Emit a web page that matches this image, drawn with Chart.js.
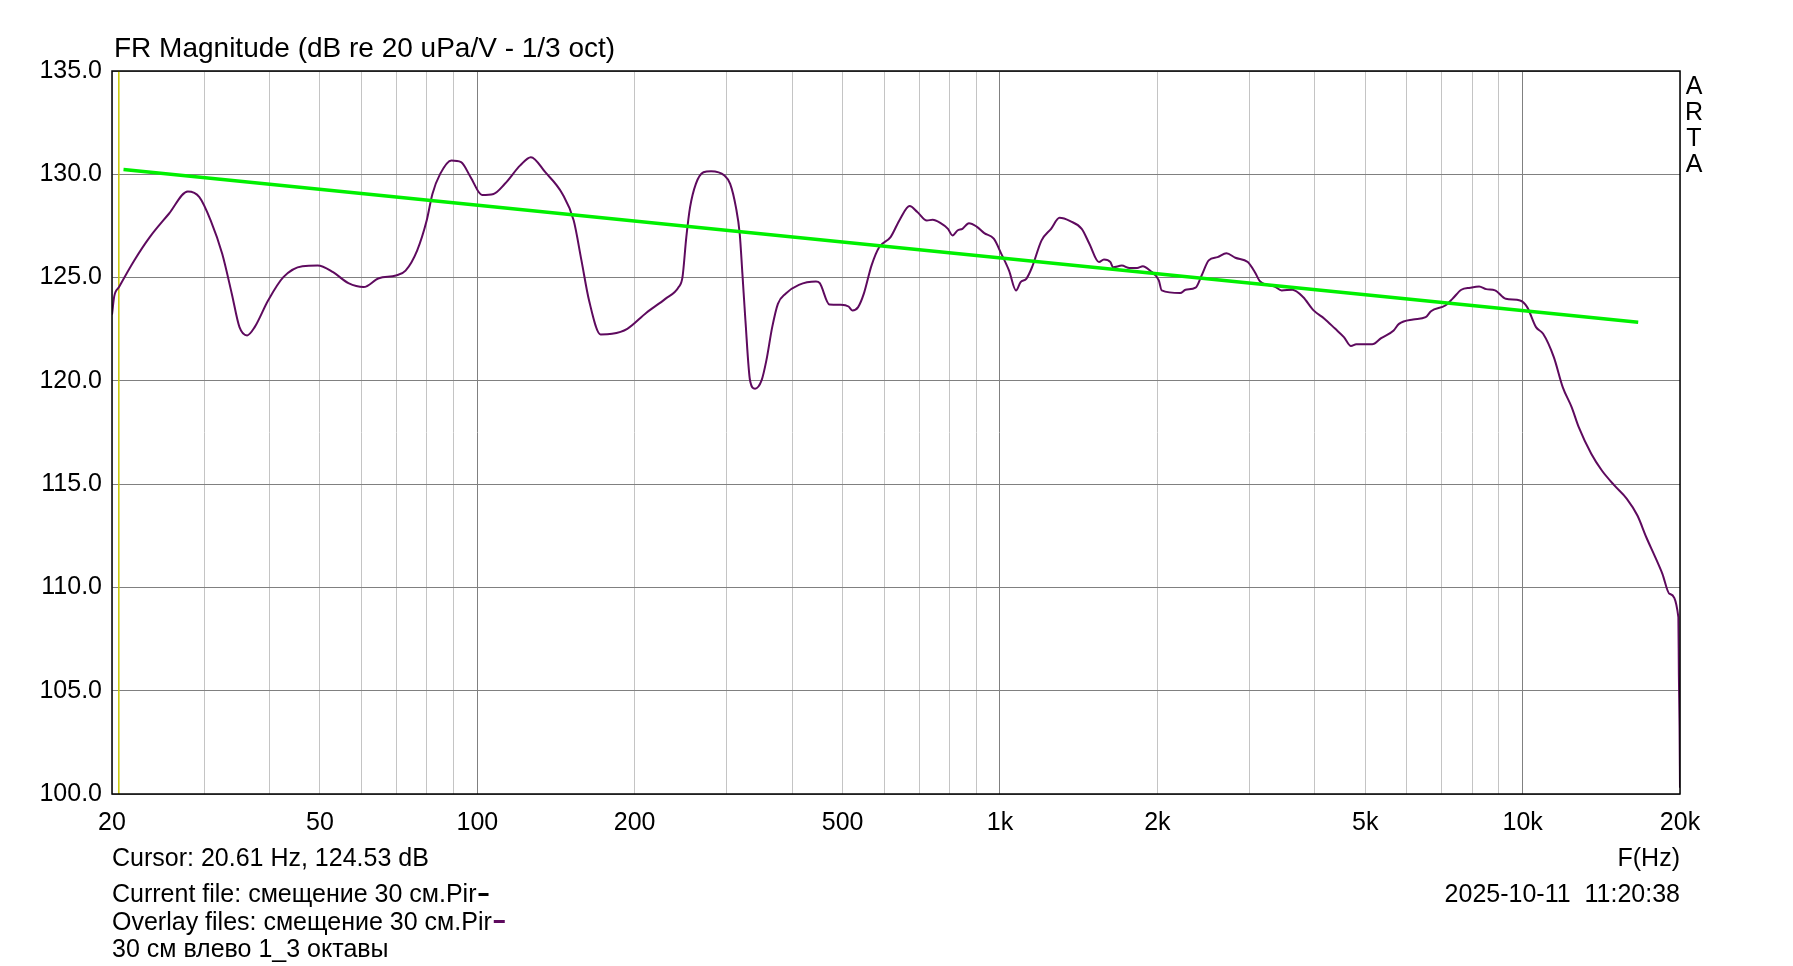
<!DOCTYPE html>
<html><head><meta charset="utf-8">
<script src="https://cdn.jsdelivr.net/npm/chart.js@4.4.1/dist/chart.umd.min.js"></script>
<style>html,body{margin:0;padding:0;background:#fff;overflow:hidden}canvas{display:block}</style>
</head><body>
<canvas id="c" width="1793" height="966"></canvas>
<script>
// ---- data ----
const freqHz = [20.0, 20.2, 20.63, 22.06, 23.62, 25.7, 27.93, 29.39, 30.9, 32.5, 33.9, 35.07, 36.27, 37.5, 39.78,
  42.55, 46.28, 49.5, 52.97, 56.67, 60.6, 64.8, 69.9, 72.9, 76.7, 80.0, 82.05, 84.9, 89.2, 93.1, 97.1,
  102.1, 107.4, 112.9, 120.8, 126.6, 134.9, 145.5, 152.9, 158.2, 163.6, 172.1, 181, 193.6, 210.6, 228.9,
  242.8, 246.9, 251.1, 255.3, 261.9, 270.8, 280.0, 297.0, 304.6, 312.4, 317.7, 321.5, 325.8, 332.5, 339.9,
  349.8, 357.3, 366.6, 375.9, 388.8, 412.3, 444.6, 452.1, 471.6, 496.2, 513.1, 521.8, 535.3, 548.9, 567.7,
  587.2, 617.5, 644.1, 671.7, 694.8, 724.6, 743.3, 768.7, 795.2, 811.1, 829.2, 847.6, 872.1, 902.0, 933.0,
  973.0, 1005.9, 1040.7, 1073.1, 1095.0, 1122.9, 1151.5, 1201.1, 1252.5, 1300.0, 1362.8, 1433.4, 1482.4,
  1546.5, 1580.7, 1626.8, 1645.3, 1710.2, 1769.5, 1829.6, 1876.2, 1936, 2013, 2039, 2212, 2265, 2367, 2431,
  2508, 2608, 2712, 2820, 2979, 3074, 3147, 3352, 3459, 3625, 3800, 3981, 4175, 4375, 4550, 4694, 4804,
  5154, 5361, 5665, 5799, 6173, 6523, 6677, 7112, 7339, 7632, 7938, 8255, 8517, 8856, 9283, 9886, 10200,
  10605, 10943, 11471, 11930, 12408, 12803, 13528, 14175, 14977, 15825, 16580, 17240, 17932, 18508, 19096,
  19857, 19900, 19960, 20000];
const magDb = [123.2, 124.1, 124.54, 125.83, 126.96, 128.09, 129.17, 128.9, 127.76, 126.15, 124.22, 122.6, 122.2, 122.6, 123.89,
  125.02, 125.55, 125.58, 125.26, 124.73, 124.54, 124.97, 125.1, 125.34, 126.31, 127.76, 129.05, 130.02, 130.67, 130.59, 129.86,
  129.0, 129.05, 129.54, 130.43, 130.83, 130.1, 129.05, 127.76, 125.83, 123.89, 122.25, 122.28, 122.52, 123.3, 123.97,
  124.54, 125.02, 126.96, 128.41, 129.54, 130.1, 130.15, 129.94, 129.54, 128.41, 127.12, 125.18, 122.92, 120.02, 119.62,
  120.02, 120.99, 122.6, 123.73, 124.22, 124.65, 124.81, 124.73, 123.7, 123.68, 123.6, 123.41, 123.57, 124.22, 125.58,
  126.47, 126.96, 127.84, 128.46, 128.17, 127.76, 127.8, 127.65, 127.36, 127.04, 127.28, 127.36, 127.63, 127.47, 127.15,
  126.88, 126.15, 125.34, 124.38, 124.78, 124.94, 125.5, 126.8, 127.36, 127.89, 127.73, 127.36, 126.64,
  125.75, 125.88, 125.75, 125.5, 125.58, 125.46, 125.46, 125.55, 125.34, 124.86, 124.38, 124.25, 124.41, 124.51, 125.1,
  125.83, 125.99, 126.18, 125.96, 125.75, 125.26, 124.81, 124.57, 124.38, 124.41, 124.06, 123.41, 123.01, 122.53, 122.12, 121.69, 121.77,
  121.77, 122.07, 122.44, 122.76, 122.97, 123.08, 123.37, 123.65, 123.97, 124.41, 124.51, 124.57, 124.44, 124.38, 123.97, 123.89, 123.57,
  122.6, 122.28, 121.15, 119.7, 118.73, 117.76, 116.47, 115.66, 114.94, 114.29, 113.48, 112.43, 111.47, 110.66, 109.69,
  108.56, 105.8, 103.3, 100.3];
const targetHz = [21.04, 16637];
const targetDb = [130.23, 122.84];
const cursorHz = 20.61;
const cursorDb = 124.53;
const yTicks = [100, 105, 110, 115, 120, 125, 130, 135];
const xTickValues = [20, 50, 100, 200, 500, 1000, 2000, 5000, 10000, 20000];
const xTickLabels = ['20', '50', '100', '200', '500', '1k', '2k', '5k', '10k', '20k'];
const titleText = 'FR Magnitude (dB re 20 uPa/V - 1/3 oct)';
const cursorText = 'Cursor: 20.61 Hz, 124.53 dB';
const currentText = 'Current file: смещение 30 см.Pir';
const overlayText = 'Overlay files: смещение 30 см.Pir';
const overlayText2 = '30 см влево 1_3 октавы';
const axisText = 'F(Hz)';
const dateText = '2025-10-11  11:20:38';
const brandText = ['A', 'R', 'T', 'A'];

// ---- chart ----
const FONT = "'Liberation Sans', Arial, sans-serif";
Chart.defaults.font.family = FONT;
Chart.defaults.font.size = 25;
Chart.defaults.color = '#000';

const gridValues = [];
for (let d = 10; d <= 10000; d *= 10) for (let m = 1; m <= 9; m++) { const v = d * m; if (v >= 20 && v <= 20000) gridValues.push(v); }
if (!gridValues.includes(20000)) gridValues.push(20000);

const purple = '#5e0a5e';
const textPlugin = {
  id: 'texts',
  afterDraw(chart) {
    const c = chart.ctx, a = chart.chartArea;
    c.save();
    c.strokeStyle = '#000'; c.lineWidth = 1.5;
    c.strokeRect(a.left, a.top, a.right - a.left, a.bottom - a.top);
    c.fillStyle = '#000'; c.textBaseline = 'alphabetic'; c.textAlign = 'left';
    c.font = '28px ' + FONT;
    c.fillText(titleText, 114, 57);
    c.font = '25px ' + FONT;
    c.fillText(cursorText, 112, 866);
    c.fillText(currentText, 112, 902);
    let w = c.measureText(currentText).width;
    c.fillRect(112 + w + 2, 893, 10, 3);
    c.fillText(overlayText, 112, 929.5);
    w = c.measureText(overlayText).width;
    c.fillStyle = purple;
    c.fillRect(112 + w + 2, 920, 11, 3);
    c.fillStyle = '#000';
    c.fillText(overlayText2, 112, 957);
    c.textAlign = 'right';
    c.fillText(axisText, a.right, 866);
    c.fillText(dateText, a.right, 902);
    c.textAlign = 'center';
    const by = [94, 120, 145.5, 171.5];
    brandText.forEach((t, i) => c.fillText(t, 1694, by[i]));
    c.restore();
  }
};

new Chart(document.getElementById('c'), {
  type: 'line',
  data: {
    datasets: [
      { label: 'target', data: targetHz.map((f, i) => ({ x: f, y: targetDb[i] })), borderColor: '#00f000', borderWidth: 3.5, pointRadius: 0, order: 0 },
      { label: 'response', data: freqHz.map((f, i) => ({ x: f, y: magDb[i] })), borderColor: purple, borderWidth: 2, pointRadius: 0, cubicInterpolationMode: 'monotone', order: 1 },
      { label: 'cursor', data: [{ x: cursorHz, y: 100 }, { x: cursorHz, y: 135 }], borderColor: '#c8c800', borderWidth: 1.5, pointRadius: 0, order: 2 }
    ]
  },
  options: {
    responsive: false, animation: false, devicePixelRatio: 1,
    layout: { padding: { top: 71, right: 113, left: 0, bottom: 0 } },
    plugins: { legend: { display: false }, tooltip: { enabled: false } },
    scales: {
      x: {
        type: 'logarithmic', min: 20, max: 20000,
        afterFit: s => { s.height = 172; },
        afterBuildTicks: s => { s.ticks = gridValues.map(v => ({ value: v })); },
        ticks: {
          autoSkip: false, maxRotation: 0, padding: 14,
          callback: v => { const i = xTickValues.indexOf(v); return i >= 0 ? xTickLabels[i] : ''; }
        },
        grid: {
          drawTicks: false, lineWidth: 1,
          color: ctx => { const v = ctx.tick && ctx.tick.value; return (v === 100 || v === 1000 || v === 10000) ? '#808080' : '#c4c4c4'; }
        },
        border: { display: false }
      },
      y: {
        min: 100, max: 135,
        afterFit: s => { s.width = 112; },
        afterBuildTicks: s => { s.ticks = yTicks.map(v => ({ value: v })); },
        ticks: { padding: 10, callback: v => Number(v).toFixed(1) },
        grid: { drawTicks: false, color: '#808080', lineWidth: 1 },
        border: { display: false }
      }
    }
  },
  plugins: [textPlugin]
});
</script>
</body></html>
